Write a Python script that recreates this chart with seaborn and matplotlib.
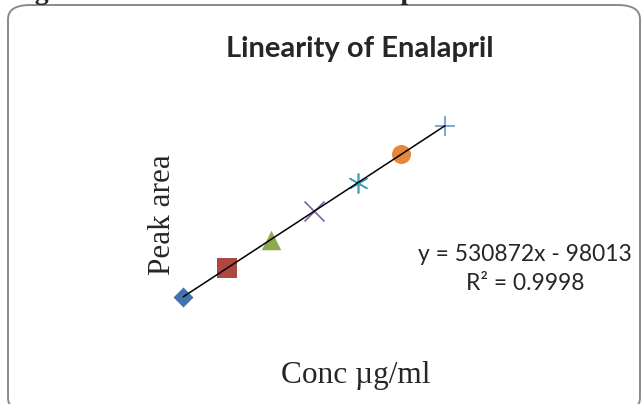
import matplotlib
matplotlib.use("Agg")
import matplotlib.pyplot as plt
from matplotlib.patches import FancyBboxPatch
import seaborn as sns

# Linearity data
conc = [2, 4, 6, 8, 10, 12, 14]
peak_area = [963000, 2026000, 3088000, 4149000, 5211000, 6271000, 7334000]
marker_list = ['D', 's', '^', 'x', (6, 2, 0), 'o', '+']
colors = ['#4472B0', '#AE4642', '#8BA94E', '#7F62A0', '#46A3BC', '#E5873A', '#6E93CC']
sizes = [104, 200, 196, 207, 190, 187, 207]

slope = 530872
intercept = -98013
r2 = 0.9998

sns.set_style("white")
plt.rcParams['font.family'] = ['Lato', 'DejaVu Sans']

W, H = 642, 404
fig = plt.figure(figsize=(W / 100, H / 100), dpi=100)
ax = fig.add_axes([139.7 / W, 1 - 322.6 / H, 348.9 / W, 214.7 / H])

# trendline
line_x = [conc[0], conc[-1]]
line_y = [slope * c + intercept for c in line_x]
sns.lineplot(x=line_x, y=line_y, color='black', linewidth=1.1, ax=ax, zorder=3)

# each point gets its own marker (Excel style)
for c, a, m, col, s in zip(conc, peak_area, marker_list, colors, sizes):
    if m in ('x', '+') or isinstance(m, tuple):
        sns.scatterplot(x=[c], y=[a], marker=m, color=col, s=s, linewidth=1.2, ax=ax, zorder=2)
    else:
        sns.scatterplot(x=[c], y=[a], marker=m, color=col, s=s, linewidth=0, ax=ax, zorder=2)

ax.set_xlim(0, 16)
ax.set_ylim(0, 8e6)
ax.axis('off')

# chart border (rounded)
border = FancyBboxPatch((8 / W, -8 / H), 632 / W, 407 / H,
                        boxstyle="round,pad=0,rounding_size=0.035",
                        transform=fig.transFigure, fill=False,
                        edgecolor='#8a8a8a', linewidth=1.4)
fig.patches.append(border)

# caption of the document, cut off at the top
fig.text(10 / W, 1 + 1 / H, "Fig. 1 Calibration curve of Enalapril",
         family='Liberation Serif', fontweight='bold', fontsize=20,
         ha='left', va='baseline')

fig.text(360 / W, 1 - 49 / H, "Linearity of Enalapril", fontweight='bold',
         fontsize=21, ha='center', va='center')
fig.text(163 / W, 1 - 215 / H, "Peak area", family='Liberation Serif',
         fontsize=22.5, rotation=90, ha='center', va='center')
fig.text(356 / W, 1 - 376 / H, "Conc µg/ml", family='Liberation Serif',
         fontsize=22.5, ha='center', va='center')
fig.text(525 / W, 1 - 269 / H, "y = %dx - %d\nR² = %.4f" % (slope, -intercept, r2),
         fontsize=16.4, ha='center', va='center', linespacing=1.5)

fig.savefig("out.png", dpi=100)
